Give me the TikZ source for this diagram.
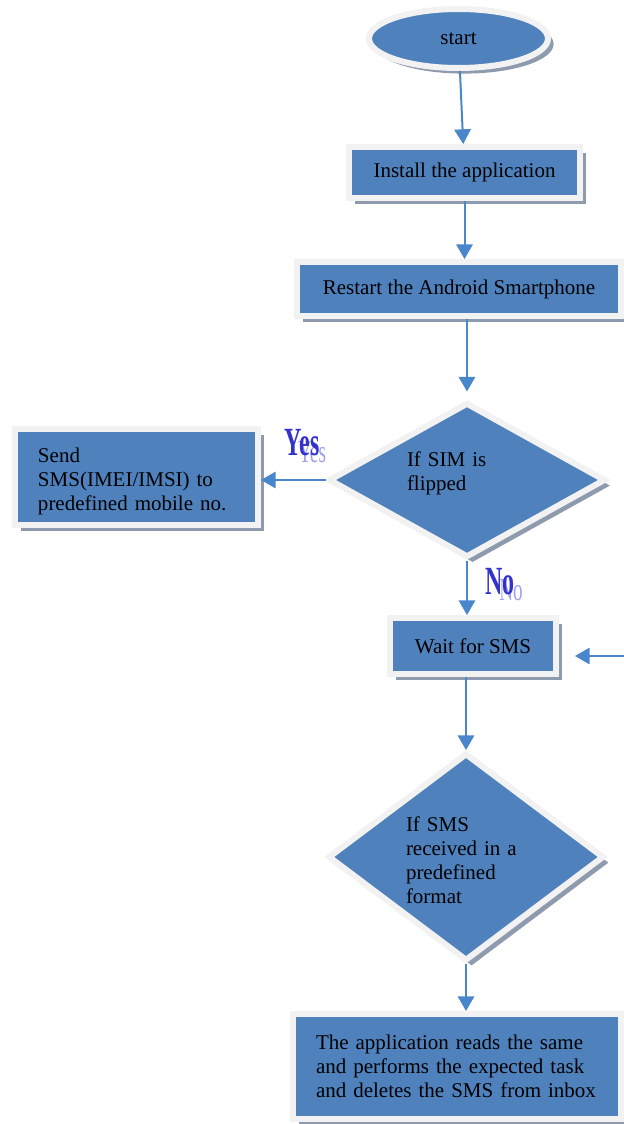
\documentclass[tikz,border=0pt]{standalone}
\usepackage{fontspec}
\setmainfont{Liberation Serif}
\usepackage{xcolor}
\usetikzlibrary{positioning,shapes.geometric,arrows,shadows}
\definecolor{boxblue}{RGB}{79,129,189}
\definecolor{rimgrey}{RGB}{242,242,242}
\definecolor{shadegrey}{RGB}{142,154,174}
\definecolor{lineblue}{RGB}{74,134,204}
\definecolor{labelblue}{RGB}{51,51,204}
\definecolor{ghostblue}{RGB}{160,160,240}
\tikzset{
    shade box/.style={
        fill=boxblue,
        draw=rimgrey,
        line width=3pt,
        drop shadow={shadow xshift=2.8pt, shadow yshift=-2.8pt, fill=shadegrey, opacity=1}
    }
}
\tikzstyle{startstop} = [ellipse, shade box, text centered]
\tikzstyle{process} = [rectangle, shade box, text centered, inner sep=0pt]
\tikzstyle{decision} = [diamond, shade box, text width=60pt, align=left, inner sep=0pt, aspect=1.5]
\tikzstyle{arrow} = [line width=1pt, draw=lineblue, ->, >=triangle 60]
\tikzstyle{answer} = [font=\fontsize{20}{20}\selectfont\bfseries, text=labelblue, inner sep=0pt]
\tikzstyle{ghost} = [font=\fontsize{16}{16}\selectfont, text=ghostblue, inner sep=0pt]

\begin{document}
\begin{tikzpicture}[x=0.5pt, y=-0.5pt, font=\fontsize{10.5}{12}\selectfont]
          \useasboundingbox (0,0) rectangle (624,1124);
          \node (start) [startstop, minimum width=89.5pt, minimum height=29.5pt] at (458.5,38.5) {start};
          \node (install) [process, minimum width=115.5pt, minimum height=25.5pt] at (464.5,172.5) {Install the application};
          \node (restart) [process, minimum width=162pt, minimum height=27pt] at (459,289) {Restart the Android Smartphone};
          \node (simflip) [decision, minimum width=138.5pt, minimum height=77.5pt, text height=1pt] at (467,480) {If SIM is\\flipped};
          \node (send) [process, minimum width=121.5pt, minimum height=48pt, text width=98.5pt, align=left, text height=12pt] at (136.5,477) {Send\\SMS(IMEI/IMSI) to\\predefined mobile no.};
          \node (wait) [process, minimum width=83pt, minimum height=28pt] at (473,646) {Wait for SMS};
          \node (smsin) [decision, minimum width=138pt, minimum height=104pt, text height=11pt] at (466,857) {If SMS\\received in a\\predefined\\format};
          \node (task) [process, minimum width=164pt, minimum height=52.5pt, text width=141pt, align=left] at (457,1066.5) {The application reads the same\\and performs the expected task\\and deletes the SMS from inbox};
          \coordinate (back) at (624,656);
          % yes / no labels
          \node (yesghost) [ghost] at (312,452) {\scalebox{0.6}[1]{Yes}};
          \node (yes) [answer] at (302,443) {\scalebox{0.6}[1]{Yes}};
          \node (noghost) [ghost] at (511,590) {\scalebox{0.6}[1]{No}};
          \node (no) [answer] at (500,582) {\scalebox{0.6}[1]{No}};
          \draw [arrow] (start) -- (install);
          \draw [arrow] (install.south) -- (install.south |- restart.north);
          \draw [arrow, shorten >=4pt] (simflip.north |- restart.south) -- (simflip.north);
          \draw [arrow] (simflip.west) -- (simflip.west -| send.east);
          \draw [arrow] (simflip.south) -- (simflip.south |- wait.north);
          \draw [arrow, shorten >=8pt] (back) -- (back -| wait.east);
          \draw [arrow] (smsin.north |- wait.south) -- (smsin.north);
          \draw [arrow] (smsin.south) -- (smsin.south |- task.north);
        \end{tikzpicture}
\end{document}
